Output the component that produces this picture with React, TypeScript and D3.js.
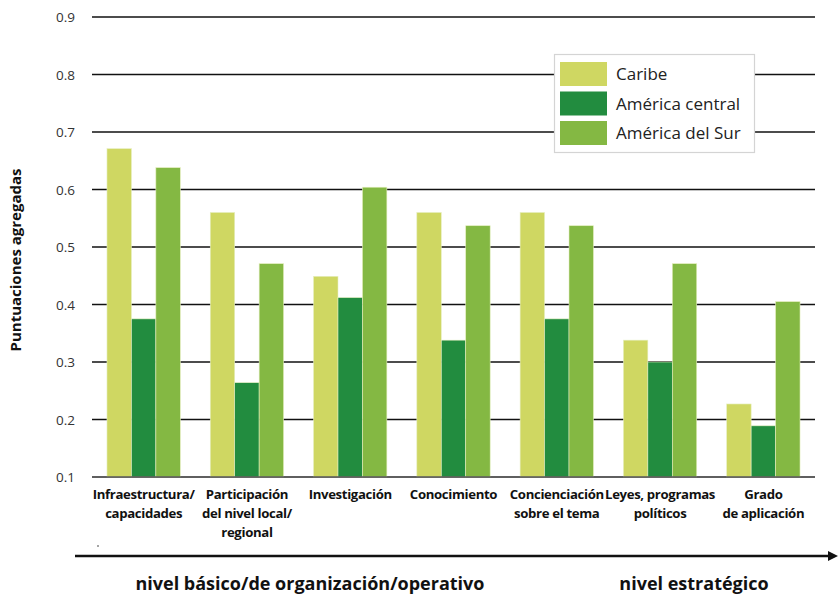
import React from 'react';
import { scaleBand, scaleLinear, range } from 'd3';

// categories, each label split into lines
const categories = [
  ['Infraestructura/', 'capacidades'],
  ['Participación', 'del nivel local/', 'regional'],
  ['Investigación'],
  ['Conocimiento'],
  ['Concienciación', 'sobre el tema'],
  ['Leyes, programas', 'políticos'],
  ['Grado', 'de aplicación'],
];
const seriesNames = ['Caribe', 'América central', 'América del Sur'];
const caribe = [0.671, 0.56, 0.449, 0.56, 0.56, 0.338, 0.227];
const americaCentral = [0.375, 0.264, 0.412, 0.338, 0.375, 0.3, 0.189];
const americaSur = [0.638, 0.471, 0.604, 0.537, 0.537, 0.471, 0.405];
const yTicks = [0.1, 0.2, 0.3, 0.4, 0.5, 0.6, 0.7, 0.8, 0.9];
const colors = ['#cfd762', '#228c3f', '#84b843'];

const W = 838;
const H = 602;
const left = 92;
const right = 815;
const top = 17;
const bottom = 477;
const font = '"Open Sans", "Noto Sans", sans-serif';

const App = () => {
  const series = [caribe, americaCentral, americaSur];
  const x = scaleBand<number>()
    .domain(range(categories.length))
    .range([left, right])
    .paddingInner(0.29)
    .paddingOuter(0.145);
  const xs = scaleBand<number>().domain([0, 1, 2]).range([0, x.bandwidth()]);
  const y = scaleLinear().domain([0.1, 0.9]).range([bottom, top]);

  return (
    <svg width={W} height={H} style={{ position: 'absolute', left: 0, top: 0 }} fontFamily={font}>
      {/* gridlines */}
      {yTicks.map(t => (
        <g key={t}>
          <line x1={left} x2={right} y1={y(t)} y2={y(t)} stroke={t === 0.1 ? '#555' : '#111'} strokeWidth={1.6} />
          <text x={75} y={y(t) + 5} textAnchor="end" fontSize={13.5} fill="#333">{t.toFixed(1)}</text>
        </g>
      ))}
      {/* bars */}
      {series.map((vals, si) => (
        <g key={si} fill={colors[si]}>
          {vals.map((v, i) => (
            <rect key={i} x={(x(i) ?? 0) + (xs(si) ?? 0)} y={y(v)} width={xs.bandwidth()} height={bottom - y(v)}
              stroke="#e6efc0" strokeWidth={0.6} />
          ))}
        </g>
      ))}
      <line x1={left} x2={right} y1={bottom} y2={bottom} stroke="#555" strokeWidth={1.6} />
      {/* category labels */}
      {categories.map((lines, i) => (
        <text key={i} textAnchor="middle" fontSize={13.2} fontWeight="bold" fill="#111" letterSpacing={-0.35}>
          {lines.map((l, j) => (
            <tspan key={j} x={(x(i) ?? 0) + x.bandwidth() / 2} y={499 + j * 19}>{l}</tspan>
          ))}
        </text>
      ))}
      {/* y title */}
      <text transform="translate(21,260) rotate(-90)" textAnchor="middle" fontSize={15} fontWeight="bold" fill="#111">
        Puntuaciones agregadas
      </text>
      {/* legend */}
      <rect x={554.5} y={54.5} width={200} height={98} fill="#fff" stroke="#d4d4d4" strokeWidth={1.2} />
      {seriesNames.map((s, i) => (
        <g key={s}>
          <rect x={560} y={62 + i * 29.5} width={47} height={24} fill={colors[i]} />
          <text x={616} y={80 + i * 29.5} fontSize={17} fill="#222">{s}</text>
        </g>
      ))}
      {/* arrow */}
      <circle cx={98} cy={546} r={0.8} fill="#333" />
      <line x1={75} x2={830} y1={556} y2={556} stroke="#111" strokeWidth={2.5} />
      <path d="M828,551 L838,556 L828,561 Z" fill="#111" />
      <text x={310} y={590} textAnchor="middle" fontSize={18} fontWeight="bold" fill="#111">
        nivel básico/de organización/operativo
      </text>
      <text x={694} y={590} textAnchor="middle" fontSize={18} fontWeight="bold" fill="#111">
        nivel estratégico
      </text>
    </svg>
  );
};

export default App;
